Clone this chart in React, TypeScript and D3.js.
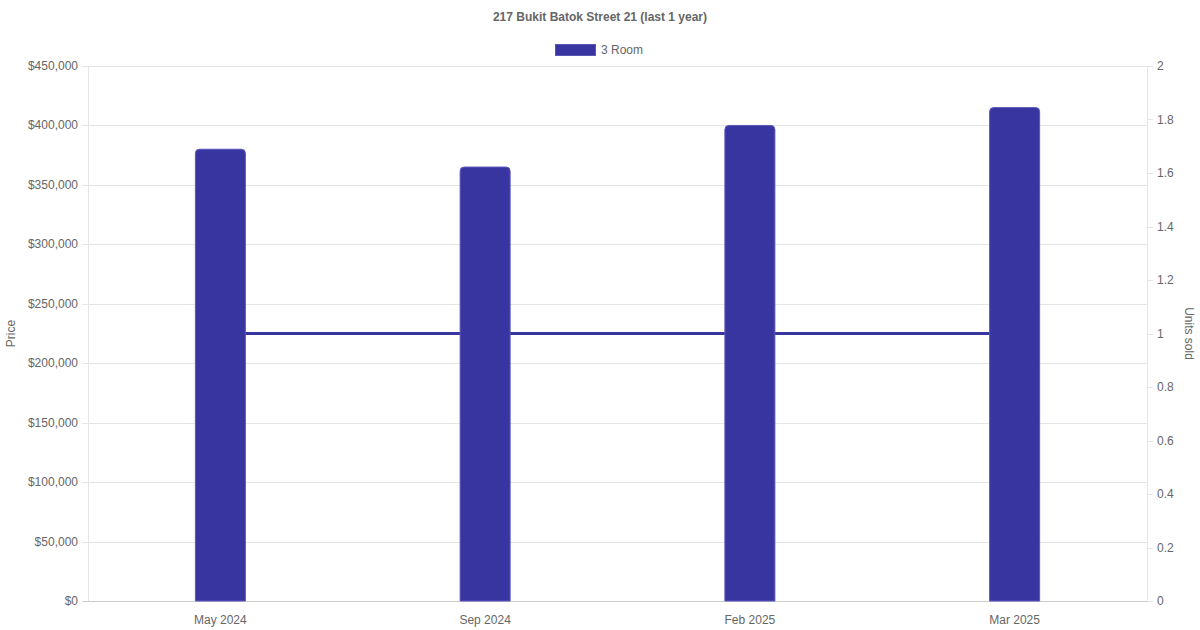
import { useEffect, useRef } from 'react'
import * as d3 from 'd3'

const months = ['May 2024', 'Sep 2024', 'Feb 2025', 'Mar 2025']
const prices = [380000, 365000, 400000, 415000]
const unitsSold = [1, 1, 1, 1]
const priceTicks = [0, 50000, 100000, 150000, 200000, 250000, 300000, 350000, 400000, 450000]
const unitTicks = [0, 0.2, 0.4, 0.6, 0.8, 1, 1.2, 1.4, 1.6, 1.8, 2]

const W = 1200
const H = 630
const FONT = '"Liberation Sans", Arial, Helvetica, sans-serif'
const TEXT = '#666'
const BAR = '#3935a0'
const BAR_EDGE = '#5b57b9'

export default function App() {
  const svgRef = useRef<SVGSVGElement>(null)

  useEffect(() => {
    if (!svgRef.current) return
    const svg = d3.select(svgRef.current)
    svg.selectAll('*').remove()

    const left = 88
    const right = 1147
    const top = 66
    const bottom = 601

    const x = d3.scaleBand().domain(months).range([left, right])
    const y = d3.scaleLinear().domain([0, 450000]).range([bottom, top])
    const y2 = d3.scaleLinear().domain([0, 2]).range([bottom, top])

    // title
    svg.append('text')
      .attr('x', W / 2).attr('y', 21)
      .attr('text-anchor', 'middle')
      .attr('font-family', FONT).attr('font-size', 12).attr('font-weight', 'bold')
      .attr('fill', TEXT)
      .text('217 Bukit Batok Street 21 (last 1 year)')

    // legend
    svg.append('rect')
      .attr('x', 555.5).attr('y', 44.5).attr('width', 40).attr('height', 11)
      .attr('fill', BAR).attr('stroke', BAR_EDGE).attr('stroke-width', 1)
    svg.append('text')
      .attr('x', 601).attr('y', 54)
      .attr('font-family', FONT).attr('font-size', 12).attr('fill', TEXT)
      .text('3 Room')

    // horizontal grid (left axis)
    svg.append('g').selectAll('line')
      .data(priceTicks)
      .join('line')
      .attr('x1', left - 6).attr('x2', right)
      .attr('y1', d => Math.round(y(d)) + 0.5).attr('y2', d => Math.round(y(d)) + 0.5)
      .attr('stroke', d => (d === 0 ? '#ccc' : '#e5e5e5'))

    // axis lines
    svg.append('line')
      .attr('x1', left + 0.5).attr('x2', left + 0.5).attr('y1', top).attr('y2', bottom)
      .attr('stroke', '#e5e5e5')
    svg.append('line')
      .attr('x1', right + 0.5).attr('x2', right + 0.5).attr('y1', top).attr('y2', bottom)
      .attr('stroke', '#e5e5e5')

    // right axis tick marks
    svg.append('g').selectAll('line')
      .data(unitTicks)
      .join('line')
      .attr('x1', right).attr('x2', right + 6)
      .attr('y1', d => Math.round(y2(d)) + 0.5).attr('y2', d => Math.round(y2(d)) + 0.5)
      .attr('stroke', '#e5e5e5')

    // left tick labels
    const fmt = d3.format('$,')
    svg.append('g').selectAll('text')
      .data(priceTicks)
      .join('text')
      .attr('x', left - 10).attr('y', d => y(d) + 4)
      .attr('text-anchor', 'end')
      .attr('font-family', FONT).attr('font-size', 12).attr('fill', TEXT)
      .text(d => fmt(d))

    // right tick labels
    svg.append('g').selectAll('text')
      .data(unitTicks)
      .join('text')
      .attr('x', right + 10).attr('y', d => y2(d) + 4)
      .attr('font-family', FONT).attr('font-size', 12).attr('fill', TEXT)
      .text(d => String(d))

    // x labels
    svg.append('g').selectAll('text')
      .data(months)
      .join('text')
      .attr('x', d => (x(d) ?? 0) + x.bandwidth() / 2)
      .attr('y', bottom + 23)
      .attr('text-anchor', 'middle')
      .attr('font-family', FONT).attr('font-size', 12).attr('fill', TEXT)
      .text(d => d)

    // axis titles
    svg.append('text')
      .attr('transform', `translate(15,${(top + bottom) / 2}) rotate(-90)`)
      .attr('text-anchor', 'middle')
      .attr('font-family', FONT).attr('font-size', 12).attr('fill', TEXT)
      .text('Price')
    svg.append('text')
      .attr('transform', `translate(1185,${(top + bottom) / 2}) rotate(90)`)
      .attr('text-anchor', 'middle')
      .attr('font-family', FONT).attr('font-size', 12).attr('fill', TEXT)
      .text('Units sold')

    // units sold line (behind bars)
    const line = d3.line<number>()
      .x((_, i) => (x(months[i]) ?? 0) + x.bandwidth() / 2)
      .y(d => y2(d))
    svg.append('path')
      .datum(unitsSold)
      .attr('d', line)
      .attr('fill', 'none')
      .attr('stroke', BAR)
      .attr('stroke-width', 3)

    // bars with rounded top corners
    const bw = 50
    const r = 4
    svg.append('g').selectAll('path')
      .data(prices)
      .join('path')
      .attr('d', (d, i) => {
        const cx = (x(months[i]) ?? 0) + x.bandwidth() / 2
        const x0 = cx - bw / 2
        const x1 = cx + bw / 2
        const yt = y(d)
        const p = d3.path()
        p.moveTo(x0, bottom)
        p.lineTo(x0, yt + r)
        p.arcTo(x0, yt, x0 + r, yt, r)
        p.lineTo(x1 - r, yt)
        p.arcTo(x1, yt, x1, yt + r, r)
        p.lineTo(x1, bottom)
        p.closePath()
        return p.toString()
      })
      .attr('fill', BAR)
      .attr('stroke', BAR_EDGE)
      .attr('stroke-width', 1)
  }, [])

  return (
    <svg
      ref={svgRef}
      width={W}
      height={H}
      style={{ position: 'absolute', left: 0, top: 0, background: '#fff' }}
    />
  )
}
